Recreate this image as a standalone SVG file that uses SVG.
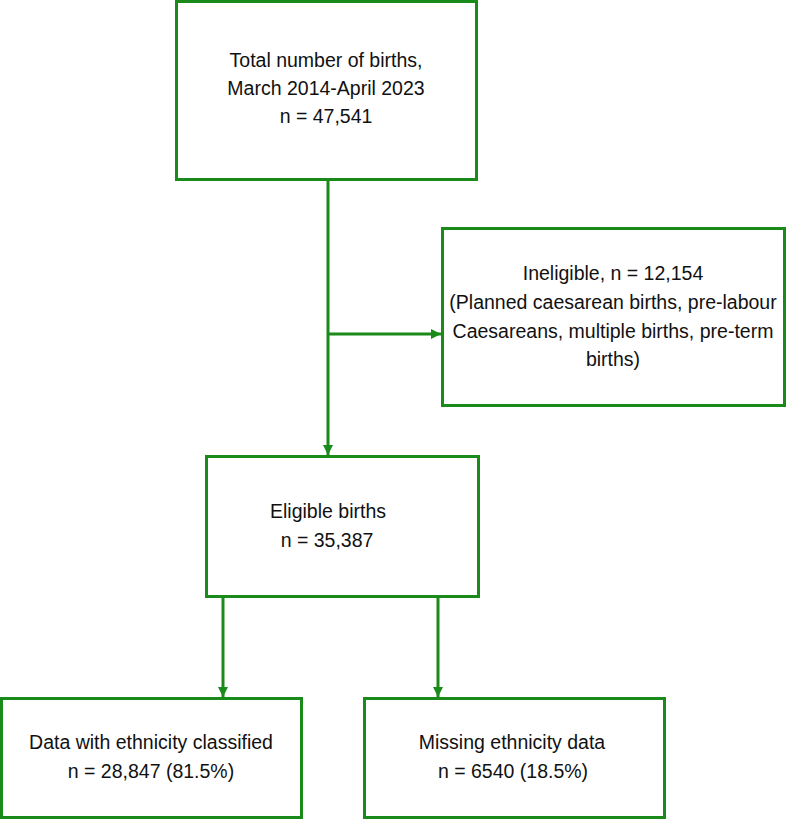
<svg xmlns="http://www.w3.org/2000/svg" width="787" height="821" viewBox="0 0 787 821">
<style>
.box{fill:#fff;stroke:#1a8a1a;stroke-width:3}
.ln{fill:none;stroke:#1a8a1a;stroke-width:3}
text{font-family:"Liberation Sans",Arial,sans-serif;font-size:19.5px;fill:#111;text-anchor:middle}
</style>
<defs>
<marker id="ah" viewBox="0 0 10 10" refX="10" refY="5" markerWidth="10" markerHeight="10" markerUnits="userSpaceOnUse" orient="auto">
<path d="M0,0 L10,5 L0,10 z" fill="#1a8a1a"/>
</marker>
</defs>
<rect width="787" height="821" fill="#fff"/>
<g id="connectors">
<line class="ln" x1="328" y1="180" x2="328" y2="455" marker-end="url(#ah)"/>
<line class="ln" x1="328" y1="334" x2="441" y2="334" marker-end="url(#ah)"/>
<line class="ln" x1="223" y1="597" x2="223" y2="697" marker-end="url(#ah)"/>
<line class="ln" x1="438" y1="597" x2="438" y2="697" marker-end="url(#ah)"/>
</g>
<g id="total">
<rect class="box" x="176.5" y="1.5" width="300" height="178"/>
<text x="326" y="67">Total number of births,</text>
<text x="326" y="95">March 2014-April 2023</text>
<text x="326" y="123">n = 47,541</text>
</g>
<g id="ineligible">
<rect class="box" x="442.5" y="228.5" width="342" height="177"/>
<text x="613" y="280">Ineligible, n = 12,154</text>
<text x="613" y="309">(Planned caesarean births, pre-labour</text>
<text x="613" y="338">Caesareans, multiple births, pre-term</text>
<text x="613" y="366">births)</text>
</g>
<g id="eligible">
<rect class="box" x="206.5" y="456.5" width="272" height="140"/>
<text x="328" y="518">Eligible births</text>
<text x="327" y="547">n = 35,387</text>
</g>
<g id="classified">
<rect class="box" x="1.5" y="698.5" width="300" height="119"/>
<text x="151" y="749">Data with ethnicity classified</text>
<text x="151" y="778">n = 28,847 (81.5%)</text>
</g>
<g id="missing">
<rect class="box" x="364.5" y="698.5" width="300" height="119"/>
<text x="512" y="749">Missing ethnicity data</text>
<text x="513" y="778">n = 6540 (18.5%)</text>
</g>
</svg>
